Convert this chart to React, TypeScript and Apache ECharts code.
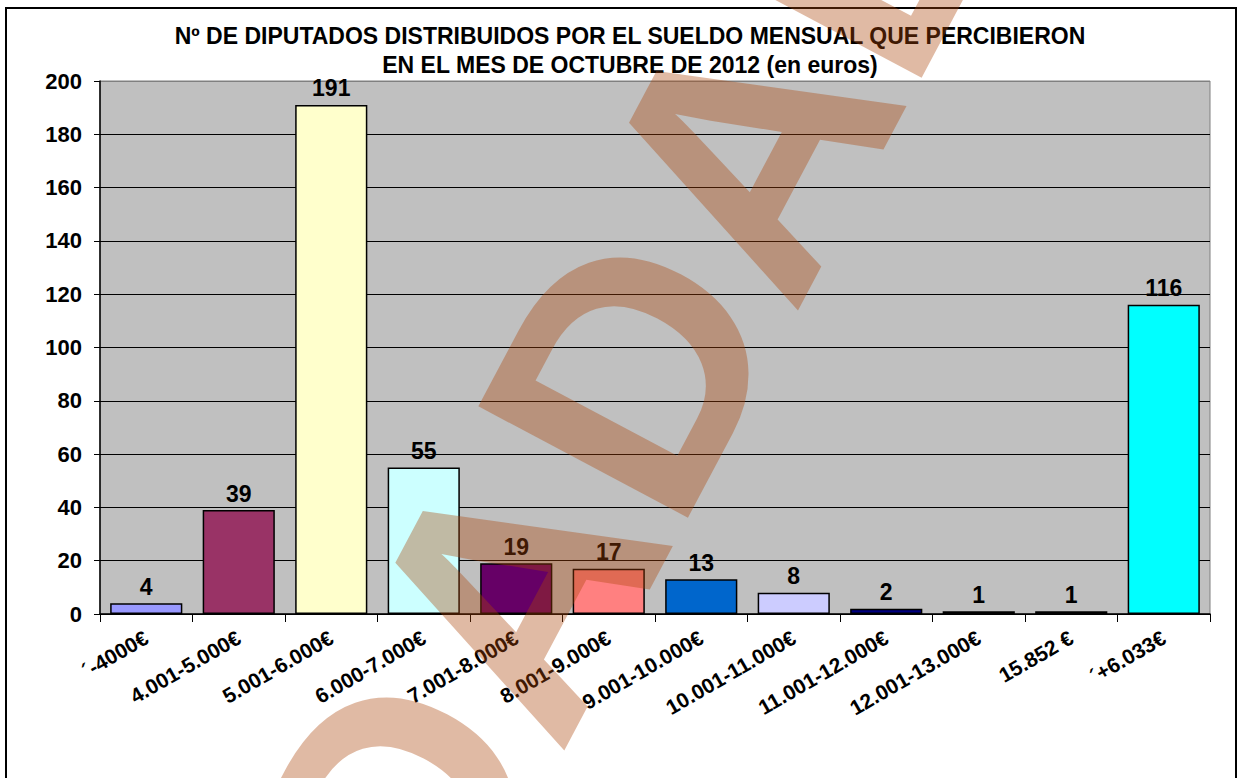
import React, { useEffect, useRef } from "react";
import * as echarts from "echarts";

const categories = [
  "´-4000€",
  "4.001-5.000€",
  "5.001-6.000€",
  "6.000-7.000€",
  "7.001-8.000€",
  "8.001-9.000€",
  "9.001-10.000€",
  "10.001-11.000€",
  "11.001-12.000€",
  "12.001-13.000€",
  "15.852 €",
  "´+6.033€",
];
const values = [4, 39, 191, 55, 19, 17, 13, 8, 2, 1, 1, 116];
const barColors = [
  "#9999FF",
  "#993366",
  "#FFFFCC",
  "#CCFFFF",
  "#660066",
  "#FF8080",
  "#0066CC",
  "#CCCCFF",
  "#000080",
  "#800080",
  "#808000",
  "#00FFFF",
];
const titleLines = [
  "Nº DE DIPUTADOS DISTRIBUIDOS POR EL SUELDO MENSUAL QUE PERCIBIERON",
  "EN EL MES DE OCTUBRE DE 2012 (en euros)",
];
const watermarkText = "DADAD";

const FONT = "'Liberation Sans', Arial, sans-serif";

export default function App() {
  const ref = useRef<HTMLDivElement>(null);
  useEffect(() => {
    document.body.style.margin = "0";
    const chart = echarts.init(ref.current!, null, { renderer: "svg" });
    const splitColors = Array.from({ length: 11 }, (_, i) => (i === 10 ? "#808080" : "#000000"));
    chart.setOption({
      animation: false,
      backgroundColor: "#ffffff",
      title: {
        text: titleLines.join("\n"),
        left: 625,
        top: 16,
        textAlign: "center",
        textStyle: {
          fontFamily: FONT,
          fontWeight: "bold",
          fontSize: 23,
          lineHeight: 29,
          color: "#000",
        },
      },
      grid: {
        left: 100,
        right: 32,
        top: 81,
        bottom: 164,
        show: true,
        backgroundColor: "#C0C0C0",
        borderColor: "#808080",
        borderWidth: 1,
      },
      xAxis: {
        type: "category",
        data: categories,
        boundaryGap: true,
        axisLine: { lineStyle: { color: "#000", width: 1.5 } },
        axisTick: { show: true, length: 8, lineStyle: { color: "#000" } },
        axisLabel: {
          rotate: 30,
          interval: 0,
          margin: 22,
          fontFamily: FONT,
          fontWeight: "bold",
          fontSize: 21,
          color: "#000",
        },
      },
      yAxis: {
        type: "value",
        min: 0,
        max: 200,
        interval: 20,
        axisLine: { show: true, lineStyle: { color: "#000", width: 1.5 } },
        axisTick: { show: true, length: 6, lineStyle: { color: "#000" } },
        axisLabel: {
          margin: 18,
          fontFamily: FONT,
          fontWeight: "bold",
          fontSize: 22,
          color: "#000",
        },
        splitLine: { show: true, lineStyle: { color: splitColors, width: 1 } },
      },
      series: [
        {
          type: "bar",
          barWidth: "78%",
          data: values.map((v, i) => ({
            value: v,
            itemStyle: { color: barColors[i], borderColor: "#000", borderWidth: 1.5 },
          })),
          label: {
            show: true,
            position: "top",
            distance: 5,
            fontFamily: FONT,
            fontWeight: "bold",
            fontSize: 23,
            color: "#000",
          },
        },
      ],
      graphic: [
        {
          type: "rect",
          z: 1000,
          silent: true,
          shape: { x: 6, y: 8, width: 1230, height: 820 },
          style: { fill: "none", stroke: "#000", lineWidth: 2 },
        },
        {
          type: "text",
          z: 1001,
          silent: true,
          x: 630,
          y: 372,
          rotation: (62 * Math.PI) / 180,
          style: {
            text: watermarkText,
            font: "bold 345px 'Liberation Sans', Arial, sans-serif",
            fill: "rgba(170,68,8,0.37)",
            align: "center",
            verticalAlign: "middle",
          },
        },
      ],
    });
    return () => chart.dispose();
  }, []);
  return <div ref={ref} style={{ width: 1242, height: 778 }} />;
}
